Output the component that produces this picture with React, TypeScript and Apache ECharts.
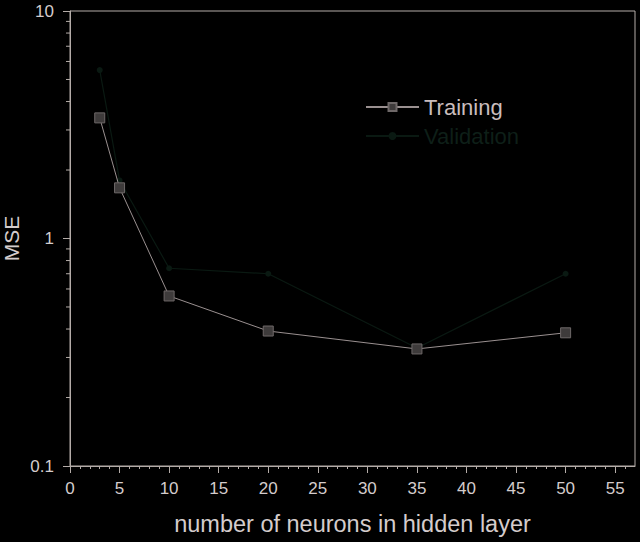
import React, { useEffect, useRef } from "react";
import * as echarts from "echarts";

const neurons = [3, 5, 10, 20, 35, 50];
const trainingMSE = [3.39, 1.67, 0.559, 0.392, 0.327, 0.385];
const validationMSE = [5.5, 1.8, 0.74, 0.7, 0.33, 0.7];
const xMajorTicks = [0, 5, 10, 15, 20, 25, 30, 35, 40, 45, 50, 55];
const xMinorTicks = [1, 2, 3, 4, 6, 7, 8, 9, 11, 12, 13, 14, 16, 17, 18, 19, 21, 22, 23, 24, 26, 27, 28, 29, 31, 32, 33, 34, 36, 37, 38, 39, 41, 42, 43, 44, 46, 47, 48, 49, 51, 52, 53, 54, 56];
const yMinorTicks = [0.2, 0.3, 0.4, 0.5, 0.6, 0.7, 0.8, 0.9, 2, 3, 4, 5, 6, 7, 8, 9];

const AXIS = "#b4aca8";
const TEXT = "#d4cccc";
const FONT = "'Liberation Sans', Arial, sans-serif";

export default function App() {
  const ref = useRef<HTMLDivElement>(null);
  useEffect(() => {
    if (!ref.current) return;
    const chart = echarts.init(ref.current, null, { renderer: "svg" });
    const trainData = neurons.map((x, i) => [x, trainingMSE[i]]);
    const valData = neurons.map((x, i) => [x, validationMSE[i]]);
    const minorData = yMinorTicks.map((v) => [0, v]);
    chart.setOption({
      animation: false,
      backgroundColor: "#000000",
      textStyle: { fontFamily: FONT },
      grid: {
        left: 70,
        right: 5,
        top: 11,
        bottom: 76,
        show: true,
        borderColor: AXIS,
        borderWidth: 1,
        backgroundColor: "transparent",
        containLabel: false,
        outerBoundsMode: "none",
      },
      legend: {
        orient: "vertical",
        left: 360,
        top: 91,
        itemWidth: 53,
        itemHeight: 10,
        itemGap: 7,
        textStyle: { fontSize: 22, fontFamily: FONT },
        data: [
          { name: "Training", textStyle: { color: "#cabdbd" } },
          { name: "Validation", textStyle: { color: "#0e1f18" } },
        ],
      },
      xAxis: [
        {
          type: "value",
          min: 0,
          max: 57,
          interval: 5,
          name: "number of neurons in hidden layer",
          nameLocation: "middle",
          nameGap: 46,
          nameMoveOverlap: false,
          nameTextStyle: { color: TEXT, fontSize: 23.5, fontFamily: FONT },
          axisLine: { show: true, lineStyle: { color: AXIS, width: 1 } },
          axisTick: { show: true, length: 7, customValues: xMajorTicks, lineStyle: { color: AXIS } },
          axisLabel: { color: TEXT, fontSize: 17, margin: 14, customValues: xMajorTicks, fontFamily: FONT },
          splitLine: { show: false },
        },
        {
          type: "value",
          min: 0,
          max: 57,
          position: "bottom",
          axisLine: { show: false },
          axisTick: { show: true, length: 3, customValues: xMinorTicks, lineStyle: { color: AXIS } },
          axisLabel: { show: false },
          splitLine: { show: false },
        },
      ],
      yAxis: [
        {
          type: "log",
          logBase: 10,
          min: 0.1,
          max: 10,
          name: "MSE",
          nameLocation: "middle",
          nameGap: 48,
          nameMoveOverlap: false,
          nameTextStyle: { color: TEXT, fontSize: 21, fontFamily: FONT },
          axisLine: { show: true, lineStyle: { color: AXIS, width: 1 } },
          axisTick: { show: true, length: 7, lineStyle: { color: AXIS } },
          axisLabel: {
            color: TEXT,
            fontSize: 17,
            margin: 16,
            fontFamily: FONT,
            formatter: (v: number) => String(v),
          },
          splitLine: { show: false },
        },
      ],
      series: [
        {
          name: "yMinorTicks",
          type: "custom",
          clip: false,
          silent: true,
          data: minorData,
          renderItem: (params: any, api: any) => {
            const p = api.coord([api.value(0), api.value(1)]);
            return {
              type: "line",
              shape: { x1: p[0] - 4, y1: p[1], x2: p[0], y2: p[1] },
              style: { stroke: AXIS, lineWidth: 1 },
            };
          },
          z: 1,
        },
        {
          name: "Validation",
          type: "line",
          data: valData,
          symbol: "circle",
          symbolSize: 6,
          lineStyle: { color: "#0a1912", width: 1.2 },
          itemStyle: { color: "#0a1912" },
          z: 2,
        },
        {
          name: "Training",
          type: "line",
          data: trainData,
          symbol: "rect",
          symbolSize: 10,
          lineStyle: { color: "#9a9090", width: 1 },
          itemStyle: { color: "#3e3b3b", borderColor: "#6e6868", borderWidth: 1 },
          z: 3,
        },
      ],
    });
    return () => chart.dispose();
  }, []);
  return <div ref={ref} style={{ width: 640, height: 542, position: "fixed", left: 0, top: 0 }} />;
}
